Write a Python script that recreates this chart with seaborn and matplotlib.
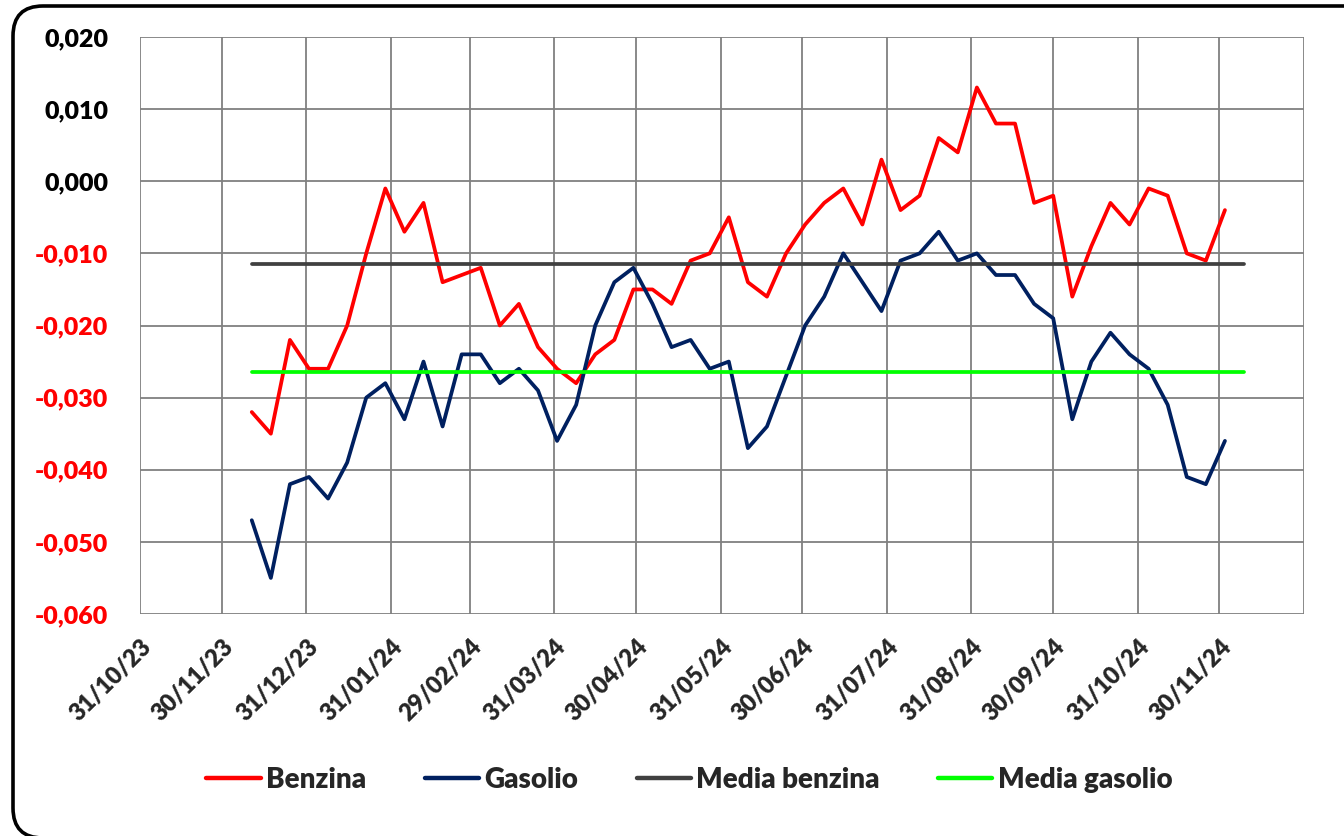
import numpy as np
import pandas as pd
import matplotlib
matplotlib.use("Agg")
import matplotlib.pyplot as plt
from matplotlib.patches import FancyBboxPatch
from matplotlib.lines import Line2D
from matplotlib.ticker import FuncFormatter
import seaborn as sns

# weekly readings (Mondays)
start_date = "2023-12-11"
n_weeks = 52

benzina = [
    -0.032, -0.035, -0.022, -0.026, -0.026, -0.020, -0.010, -0.001, -0.007, -0.003,
    -0.014, -0.013, -0.012, -0.020, -0.017, -0.023, -0.026, -0.028, -0.024, -0.022,
    -0.015, -0.015, -0.017, -0.011, -0.010, -0.005, -0.014, -0.016, -0.010, -0.006,
    -0.003, -0.001, -0.006, 0.003, -0.004, -0.002, 0.006, 0.004, 0.013, 0.008,
    0.008, -0.003, -0.002, -0.016, -0.009, -0.003, -0.006, -0.001, -0.002, -0.010,
    -0.011, -0.004,
]
gasolio = [
    -0.047, -0.055, -0.042, -0.041, -0.044, -0.039, -0.030, -0.028, -0.033, -0.025,
    -0.034, -0.024, -0.024, -0.028, -0.026, -0.029, -0.036, -0.031, -0.020, -0.014,
    -0.012, -0.017, -0.023, -0.022, -0.026, -0.025, -0.037, -0.034, -0.027, -0.020,
    -0.016, -0.010, -0.014, -0.018, -0.011, -0.010, -0.007, -0.011, -0.010, -0.013,
    -0.013, -0.017, -0.019, -0.033, -0.025, -0.021, -0.024, -0.026, -0.031, -0.041,
    -0.042, -0.036,
]
media_benzina = -0.0115
media_gasolio = -0.0265

series_names = ["Benzina", "Gasolio", "Media benzina", "Media gasolio"]
colors = ["#FF0000", "#002060", "#404040", "#00FF00"]

y_ticks = [0.020, 0.010, 0.000, -0.010, -0.020, -0.030, -0.040, -0.050, -0.060]
x_ticks = pd.date_range("2023-10-31", "2024-12-31", freq="ME")

dates = pd.date_range(start_date, periods=n_weeks + 1, freq="7D")

df = pd.concat([
    pd.DataFrame({"data": dates[:n_weeks], "valore": benzina, "serie": "Benzina"}),
    pd.DataFrame({"data": dates[:n_weeks], "valore": gasolio, "serie": "Gasolio"}),
    pd.DataFrame({"data": dates, "valore": media_benzina, "serie": "Media benzina"}),
    pd.DataFrame({"data": dates, "valore": media_gasolio, "serie": "Media gasolio"}),
], ignore_index=True)

sns.set_style("white")
plt.rcParams["font.family"] = ["Lato", "DejaVu Sans"]
plt.rcParams["font.weight"] = "heavy"

fig = plt.figure(figsize=(13.44, 8.36), dpi=100)
ax = fig.add_axes([140 / 1344, 1 - 614 / 836, 1164 / 1344, 577 / 836])

palette = dict(zip(series_names, colors))
sns.lineplot(data=df, x="data", y="valore", hue="serie", hue_order=series_names,
             palette=palette, estimator=None, sort=False, linewidth=2.7,
             legend=False, ax=ax)

ax.set_xlim(x_ticks[0], x_ticks[-1])
ax.set_ylim(-0.060, 0.020)
ax.set_xticks(x_ticks)
ax.set_xticklabels([d.strftime("%d/%m/%y") if i < len(x_ticks) - 1 else ""
                    for i, d in enumerate(x_ticks)])
ax.set_yticks(y_ticks)
ax.yaxis.set_major_formatter(FuncFormatter(lambda v, p: f"{v:.3f}".replace(".", ",")))
ax.grid(True, color="#808080", linewidth=1.3)
ax.set_axisbelow(True)
for s in ax.spines.values():
    s.set_visible(False)
ax.set_xlabel("")
ax.set_ylabel("")

ax.tick_params(axis="y", length=7, width=1.3, color="#808080", pad=16, labelsize=18)
ax.tick_params(axis="x", length=7, width=1.3, color="#808080", pad=8, labelsize=17,
               rotation=45)
for lab in ax.get_xticklabels():
    lab.set_ha("right")
    lab.set_rotation_mode("anchor")
    lab.set_fontweight("heavy")
for lab, v in zip(ax.get_yticklabels(), y_ticks):
    lab.set_fontweight("heavy")
    lab.set_color("#FF0000" if v < 0 else "black")

handles = [Line2D([], [], color=c, linewidth=3.2) for c in colors]
fig.legend(handles, series_names, loc="center", bbox_to_anchor=(0.513, 1 - 780 / 836),
           ncol=4, frameon=False, prop={"weight": "heavy", "size": 20},
           handlelength=1.95, handletextpad=0.2, columnspacing=2.1)

# rounded chart border, running off the right and bottom edges
border = FancyBboxPatch((13, -2), 1450, 832, boxstyle="round,pad=0,rounding_size=30",
                        transform=None, fill=False, edgecolor="black", linewidth=2.6)
fig.patches.append(border)

fig.savefig("out.png", dpi=100, facecolor="white")
